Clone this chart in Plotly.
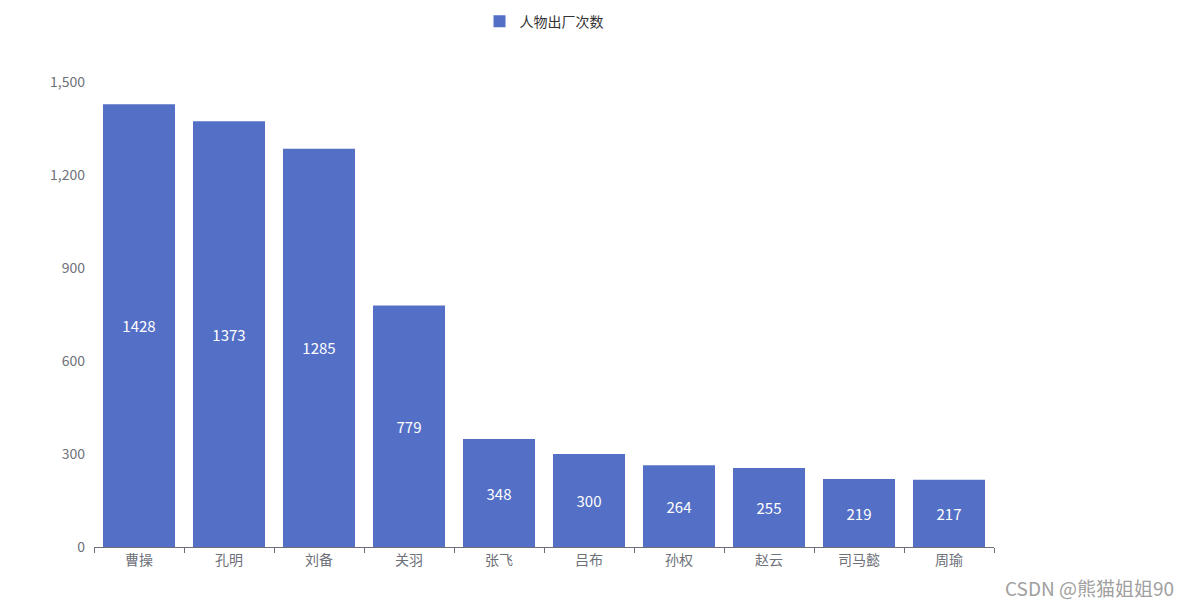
import plotly.graph_objects as go

names = ["曹操", "孔明", "刘备", "关羽", "张飞", "吕布", "孙权", "赵云", "司马懿", "周瑜"]
counts = [1428, 1373, 1285, 779, 348, 300, 264, 255, 219, 217]
series_name = "人物出厂次数"
y_ticks = [0, 300, 600, 900, 1200, 1500]
y_tick_text = ["0", "300", "600", "900", "1,200", "1,500"]

font_family = "Noto Sans CJK SC, Microsoft YaHei, sans-serif"

fig = go.Figure()
fig.add_trace(go.Bar(
    x=names, y=counts, name=series_name,
    marker=dict(color="#5470c6", line=dict(width=0)),
    text=[str(v) for v in counts],
    textposition="inside", insidetextanchor="middle",
    textfont=dict(color="white", size=15, family=font_family),
    showlegend=True,
))

fig.update_layout(
    width=1197, height=606,
    margin=dict(l=94, r=203, t=82, b=59, autoexpand=False),
    paper_bgcolor="white", plot_bgcolor="white",
    bargap=0.2,
    font=dict(family=font_family, size=14, color="#6E7079"),
    legend=dict(orientation="h", x=0.5, xanchor="center", y=1.13, yanchor="middle",
                font=dict(size=14, color="#333333"), itemsizing="constant",
                itemwidth=30),
    xaxis=dict(showline=True, linecolor="#6E7079", linewidth=1,
               ticks="outside", tickson="boundaries", ticklen=5, tickcolor="#6E7079",
               showgrid=False, tickfont=dict(size=14, color="#6E7079")),
    yaxis=dict(range=[0, 1500], tickvals=y_ticks, ticktext=y_tick_text,
               showgrid=False, zeroline=False, showline=False,
               ticklabelstandoff=8, tickfont=dict(size=14, color="#6E7079")),
    annotations=[dict(text="CSDN @熊猫姐姐90", xref="paper", yref="paper",
                      x=1.0, xanchor="left", xshift=9, y=0, yanchor="top", yshift=-25,
                      showarrow=False, font=dict(size=19, color="#a0a0a0", family=font_family))],
)

fig.write_html("out.html")
